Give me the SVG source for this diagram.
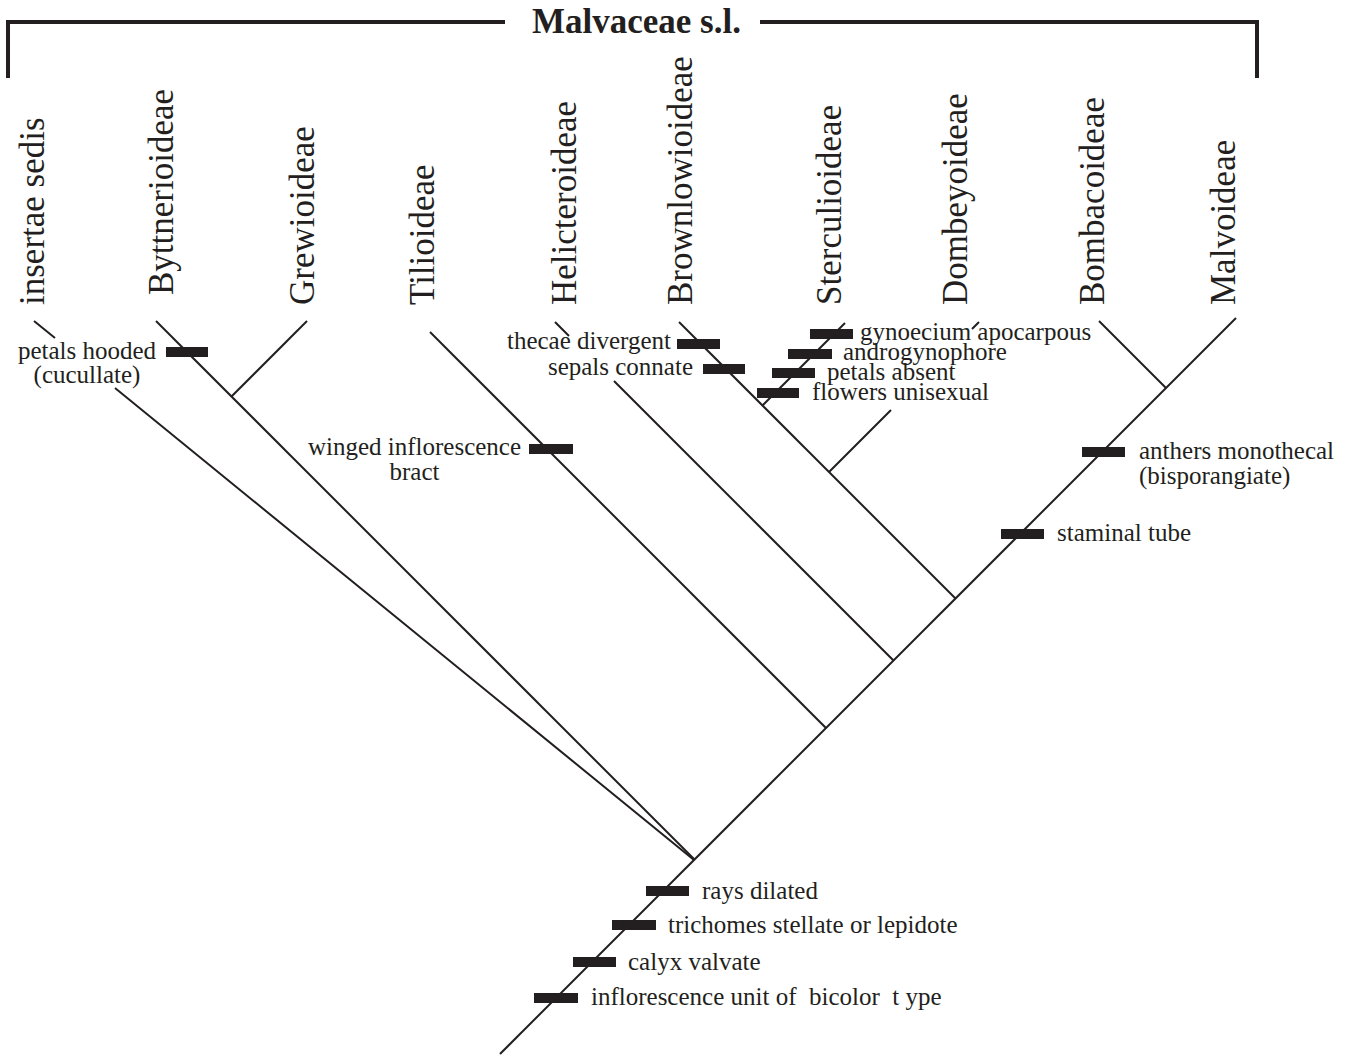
<svg xmlns="http://www.w3.org/2000/svg" width="1351" height="1058" viewBox="0 0 1351 1058">
<style>
text{font-family:"Liberation Serif","Times New Roman",serif;fill:#231f20}
.taxon{font-size:35px}
.lab{font-size:25px}
.title{font-size:35px;font-weight:bold}
.ln{stroke:#231f20;stroke-width:2;fill:none}
.br{stroke:#231f20;stroke-width:4;fill:none}
.bar{fill:#231f20}
</style>
<rect width="1351" height="1058" fill="#fff"/>
<g id="title">
<path class="br" d="M8,78 V22 H505"/>
<path class="br" d="M760,22 H1257 V78"/>
<text class="title" x="532" y="33">Malvaceae s.l.</text>
</g>
<g id="connectors">
<path class="ln" d="M500,1054 L1236,318"/>
<path class="ln" d="M34,321 L55,338 M115,388 L694,860"/>
<path class="ln" d="M156,321 L694,859"/>
<path class="ln" d="M307,321 L231.5,396.5"/>
<path class="ln" d="M430,332 L826,728"/>
<path class="ln" d="M555,322 L569,336 M614,381 L893.5,660.5"/>
<path class="ln" d="M679,322 L955.5,598.5"/>
<path class="ln" d="M845,323 L762.5,405.5"/>
<path class="ln" d="M979,322 L972,329 M891,410 L829,472"/>
<path class="ln" d="M1099,321 L1166,388"/>
</g>
<g id="taxa">
<g id="n-insertae"><text class="taxon" transform="translate(44,305) rotate(-90)">insertae sedis</text></g>
<g id="n-byttnerioideae"><text class="taxon" transform="translate(173,295) rotate(-90)">Byttnerioideae</text></g>
<g id="n-grewioideae"><text class="taxon" transform="translate(314,305) rotate(-90)">Grewioideae</text></g>
<g id="n-tilioideae"><text class="taxon" transform="translate(434,305) rotate(-90)">Tilioideae</text></g>
<g id="n-helicteroideae"><text class="taxon" transform="translate(576,305) rotate(-90)">Helicteroideae</text></g>
<g id="n-brownlowioideae"><text class="taxon" transform="translate(692,305) rotate(-90)">Brownlowioideae</text></g>
<g id="n-sterculioideae"><text class="taxon" transform="translate(841,305) rotate(-90)">Sterculioideae</text></g>
<g id="n-dombeyoideae"><text class="taxon" transform="translate(967,305) rotate(-90)">Dombeyoideae</text></g>
<g id="n-bombacoideae"><text class="taxon" transform="translate(1104,305) rotate(-90)">Bombacoideae</text></g>
<g id="n-malvoideae"><text class="taxon" transform="translate(1235,305) rotate(-90)">Malvoideae</text></g>
</g>
<g id="characters">
<g id="c-hooded"><rect class="bar" x="166" y="347" width="42" height="10"/>
<text class="lab" x="87" y="359" text-anchor="middle">petals hooded</text>
<text class="lab" x="87" y="383" text-anchor="middle">(cucullate)</text></g>
<g id="c-winged"><rect class="bar" x="529" y="444" width="44" height="10"/>
<text class="lab" x="414.5" y="455" text-anchor="middle">winged inflorescence</text>
<text class="lab" x="414.5" y="480" text-anchor="middle">bract</text></g>
<g id="c-thecae"><rect class="bar" x="677" y="339" width="43" height="10"/>
<text class="lab" x="671" y="349" text-anchor="end">thecae divergent</text></g>
<g id="c-sepals"><rect class="bar" x="703" y="364" width="42" height="10"/>
<text class="lab" x="693" y="375" text-anchor="end">sepals connate</text></g>
<g id="c-gyno"><rect class="bar" x="810" y="329" width="43" height="10"/>
<text class="lab" x="860" y="340">gynoecium apocarpous</text></g>
<g id="c-andro"><rect class="bar" x="788" y="349" width="44" height="10"/>
<text class="lab" x="843" y="360">androgynophore</text></g>
<g id="c-petals"><rect class="bar" x="772" y="368" width="43" height="10"/>
<text class="lab" x="827" y="380">petals absent</text></g>
<g id="c-flowers"><rect class="bar" x="757" y="388" width="42" height="10"/>
<text class="lab" x="812" y="400">flowers unisexual</text></g>
<g id="c-anthers"><rect class="bar" x="1082" y="447" width="43" height="10"/>
<text class="lab" x="1139" y="459">anthers monothecal</text>
<text class="lab" x="1139" y="484">(bisporangiate)</text></g>
<g id="c-staminal"><rect class="bar" x="1001" y="529" width="43" height="10"/>
<text class="lab" x="1057" y="541">staminal tube</text></g>
<g id="c-rays"><rect class="bar" x="646" y="886" width="43" height="10"/>
<text class="lab" x="702" y="899">rays dilated</text></g>
<g id="c-trichomes"><rect class="bar" x="612" y="920" width="44" height="10"/>
<text class="lab" x="668" y="933">trichomes stellate or lepidote</text></g>
<g id="c-calyx"><rect class="bar" x="573" y="957" width="43" height="10"/>
<text class="lab" x="628" y="970">calyx valvate</text></g>
<g id="c-infl"><rect class="bar" x="534" y="993" width="44" height="10"/>
<text class="lab" x="591" y="1005" style="white-space:pre">inflorescence unit of  bicolor  t ype</text></g>
</g>
</svg>
